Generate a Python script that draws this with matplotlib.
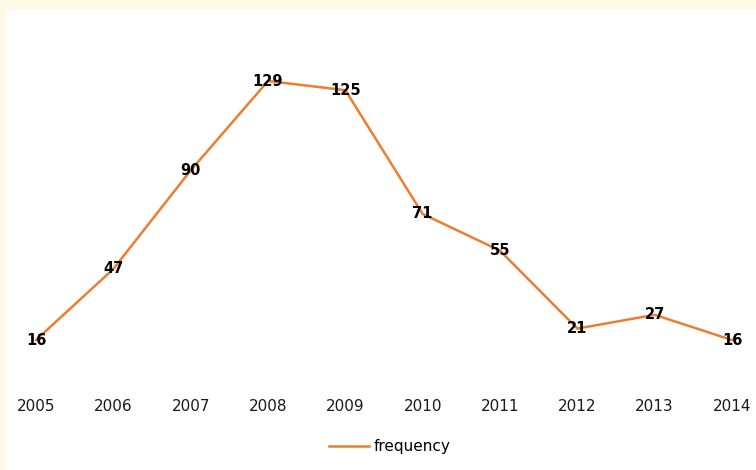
import numpy as np
import matplotlib; matplotlib.use('Agg')
import matplotlib.pyplot as plt

years = ['2005', '2006', '2007', '2008', '2009', '2010', '2011', '2012', '2013', '2014']
frequency = [16, 47, 90, 129, 125, 71, 55, 21, 27, 16]

W, H = 756, 470
fig = plt.figure(figsize=(W/100, H/100), dpi=100, facecolor='#fef9e6')
# white chart area (cream band at top and left)
fig.patches.append(plt.Rectangle((6/W, 0), 1, 1-10/H, transform=fig.transFigure, color='white', zorder=-10))

ax = fig.add_axes([6/W, 1-376.7/H, 750/W, (376.7-10)/H])
ax.set_zorder(2)
ax.set_facecolor('none')
x = np.arange(len(years))
ax.plot(x, frequency, color='#ed7d31', lw=1.8, label='frequency', solid_joinstyle='miter')
for xi, v in zip(x, frequency):
    ax.text(xi, v, str(v), ha='center', va='center', fontsize=10.5, fontweight='bold', color='black', zorder=5)

ax.set_xlim(-30*9/696, 9+24*9/696)
ax.set_ylim(0, (376.7-10)/2.292)
ax.set_xticks(x); ax.set_xticklabels(years, fontsize=11, color='#1a1a1a')
ax.tick_params(axis='x', length=0, pad=16)
ax.set_yticks([])
for s in ax.spines.values(): s.set_visible(False)

fig.legend(loc='center', bbox_to_anchor=(390/W, 1-447/H), frameon=False, fontsize=11,
           handlelength=2.6, handletextpad=0.3)
fig.savefig('out.png', dpi=100, facecolor=fig.get_facecolor())
